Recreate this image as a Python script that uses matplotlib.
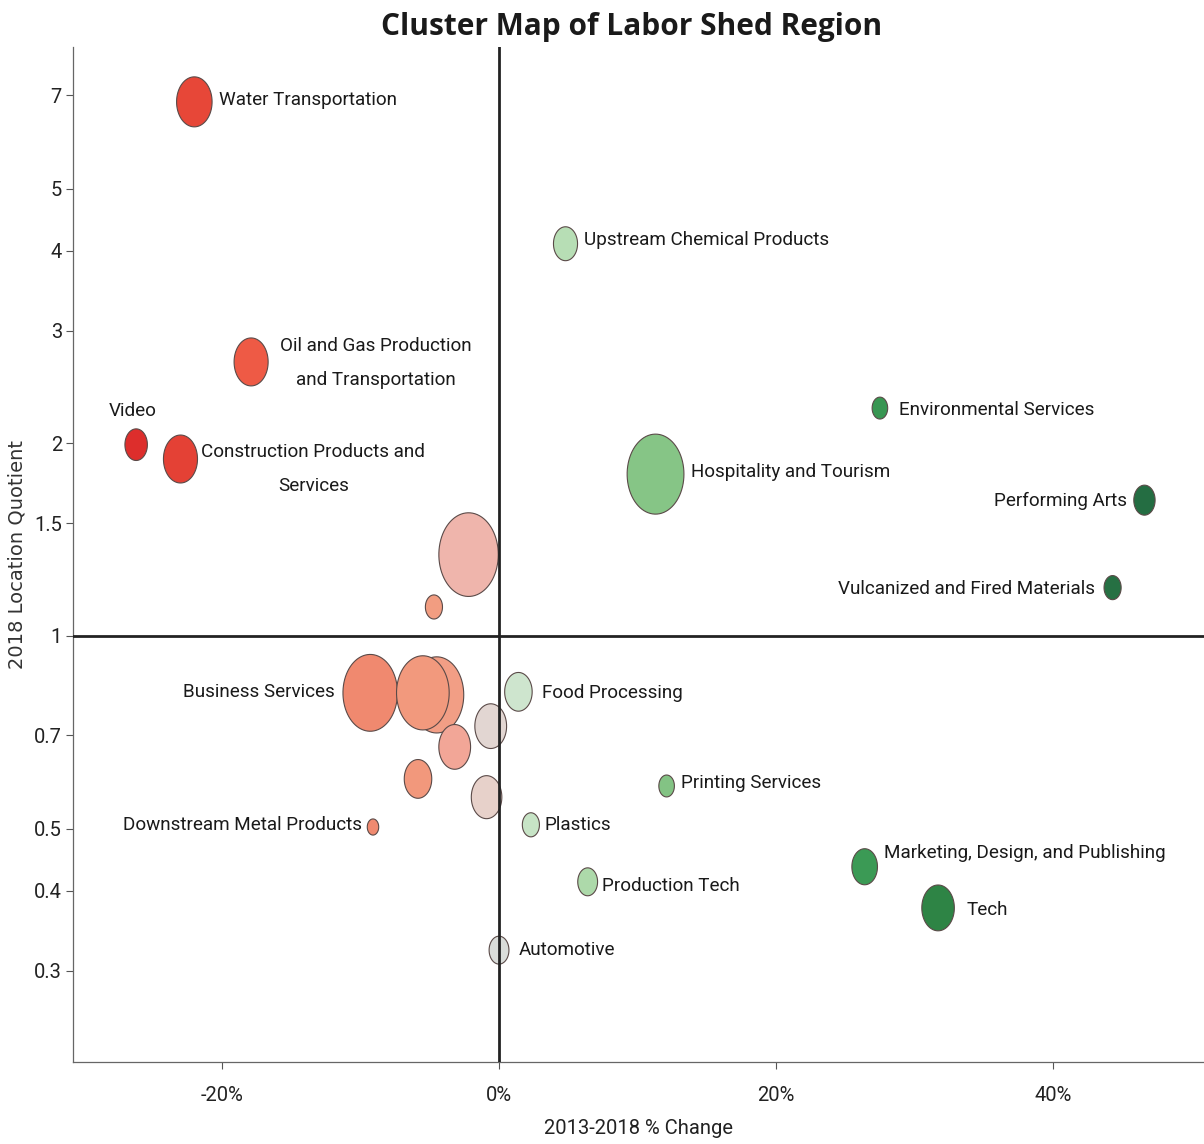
import numpy as np
import matplotlib.pyplot as plt
from matplotlib.path import Path
from matplotlib.colors import LinearSegmentedColormap, TwoSlopeNorm

# cluster data
clusters = ["Water Transportation", "Upstream Chemical Products",
            "Oil and Gas Production\nand Transportation", "Video",
            "Construction Products and\nServices", "Environmental Services",
            "Hospitality and Tourism", "Performing Arts",
            "Vulcanized and Fired Materials", "", "", "Business Services",
            "", "", "", "", "Food Processing", "", "",
            "Downstream Metal Products", "Plastics", "Printing Services",
            "Production Tech", "Marketing, Design, and Publishing", "Tech",
            "Automotive"]
pct_change = [-22.0, 4.8, -17.9, -26.2, -23.0, 27.5, 11.3, 46.6, 44.3, -2.2,
              -4.7, -9.3, -4.5, -5.5, -3.2, -0.6, 1.4, -5.85, -0.9, -9.1,
              2.3, 12.1, 6.4, 26.4, 31.7, 0.0]
location_quotient = [6.83, 4.10, 2.68, 1.99, 1.89, 2.27, 1.79, 1.63, 1.19, 1.34,
                     1.11, 0.815, 0.809, 0.815, 0.671, 0.723, 0.818, 0.598, 0.56,
                     0.503, 0.507, 0.583, 0.413, 0.436, 0.376, 0.323]
employment = [25, 11.5, 23, 10, 23, 4.8, 64, 9, 5.8, 70, 5.8, 59, 58, 55, 20,
              20, 15, 15, 18.5, 2.6, 5.8, 4.8, 7.8, 13, 21, 7.8]

# label placement (pixels from bubble centre) and alignment
label_offsets = [(25, 2), (18, 4), (29, -1), (-3, 34), (21, -10), (19, -2),
                 (35, 2), (-17, -1), (-18, -1), (0, 0), (0, 0), (-35, 1),
                 (0, 0), (0, 0), (0, 0), (0, 0), (24, -1), (0, 0), (0, 0),
                 (-11, 2), (14, 0), (14, 3), (14, -4), (19, 14), (28, -2),
                 (20, 0)]
label_ha = ["left", "left", "left", "center", "left", "left", "left", "right",
            "right", "left", "left", "right", "left", "left", "left", "left",
            "left", "left", "left", "right", "left", "left", "left", "left",
            "left", "left"]

dpi = 100
fig = plt.figure(figsize=(12.04, 11.44), dpi=dpi)
ax = fig.add_axes([73 / 1204, 1 - 1062 / 1144, 1 - 73 / 1204, (1062 - 47) / 1144])

cmap = LinearSegmentedColormap.from_list("lq", [
    (0.0, "#dc2a2a"), (0.1, "#e84a3a"), (0.17, "#ee5a45"), (0.33, "#f08a70"),
    (0.41, "#f29c80"), (0.45, "#f2aaa0"), (0.48, "#e8cfc8"), (0.5, "#dcdcdc"),
    (0.515, "#cde6cd"), (0.56, "#b3dcb0"), (0.62, "#86c586"), (0.78, "#3b9a55"),
    (0.84, "#2e8445"), (1.0, "#246c42")])
norm = TwoSlopeNorm(vmin=-27, vcenter=0, vmax=47)

# bubbles are a little taller than wide in the original
t = np.linspace(0, 2 * np.pi, 80)
ellipse = Path(np.column_stack([np.cos(t) * 0.71, np.sin(t)]), closed=True)

sizes = np.array(employment) * 100 * (72 / dpi) ** 2
ax.scatter(pct_change, location_quotient, s=sizes, c=pct_change, cmap=cmap,
           norm=norm, marker=ellipse, edgecolors="#5a4a48", linewidths=0.8,
           zorder=2)

narrow = dict(family=["Roboto", "DejaVu Sans"])
for name, x, y, off, ha in zip(clusters, pct_change, location_quotient,
                               label_offsets, label_ha):
    if not name:
        continue
    ax.annotate(name, (x, y), xytext=off, textcoords="offset pixels", ha=ha,
                va="center", multialignment="center", linespacing=2.1,
                fontsize=13.6, color="#1a1a1a", **narrow)

ax.set_yscale("log")
ax.set_xlim(-30.76, 50.9)
ax.set_ylim(0.216, 8.32)

ax.axhline(1, color="#222222", lw=2, zorder=3)
ax.axvline(0, color="#222222", lw=2, zorder=3)

yticks = [0.3, 0.4, 0.5, 0.7, 1, 1.5, 2, 3, 4, 5, 7]
ax.set_yticks(yticks)
ax.set_yticklabels(["0.3", "0.4", "0.5", "0.7", "1", "1.5", "2", "3", "4", "5", "7"])
ax.minorticks_off()
xticks = [-20, 0, 20, 40]
ax.set_xticks(xticks)
ax.set_xticklabels(["-20%", "0%", "20%", "40%"])

for lbl in ax.get_xticklabels() + ax.get_yticklabels():
    lbl.set_family(narrow["family"])
    lbl.set_fontsize(14.5)
    lbl.set_color("#222222")
ax.tick_params(axis="both", length=5, width=0.8, color="#555555")
ax.tick_params(axis="x", pad=12)
ax.tick_params(axis="y", pad=3)

for side in ["top", "right"]:
    ax.spines[side].set_visible(False)
for side in ["left", "bottom"]:
    ax.spines[side].set_color("#666666")
    ax.spines[side].set_linewidth(0.9)

ax.set_xlabel("2013-2018 % Change", fontsize=14.5, color="#222222", labelpad=10,
              **narrow)
ax.set_ylabel("2018 Location Quotient", family="DejaVu Sans", fontsize=14,
              color="#333333")
ax.yaxis.set_label_coords(-46 / 1131, 0.5)
fig.suptitle("Cluster Map of Labor Shed Region", family="Open Sans",
             fontweight="bold", fontsize=21.5, x=632 / 1204, y=1 - 27 / 1144,
             va="center", color="#1a1a1a")

fig.savefig("out.png", dpi=dpi)
